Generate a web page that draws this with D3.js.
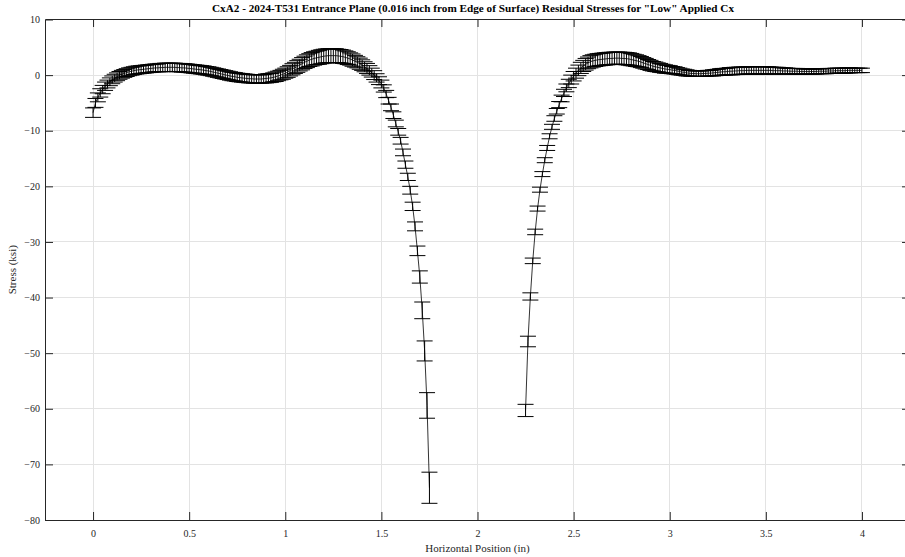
<!DOCTYPE html>
<html>
<head>
<meta charset="utf-8">
<script src="https://cdn.jsdelivr.net/npm/d3@7"></script>
<style>
  body { margin: 0; background: #fff; }
  svg { display: block; }
  text { font-family: "Liberation Serif", "Times New Roman", serif; }
</style>
</head>
<body>
<svg id="chart" width="905" height="557"></svg>
<script>
const titleText = 'CxA2 - 2024-T531 Entrance Plane (0.016 inch from Edge of Surface) Residual Stresses for "Low" Applied Cx';
const xLabel = 'Horizontal Position (in)';
const yLabel = 'Stress (ksi)';

const xTicks = [0, 0.5, 1, 1.5, 2, 2.5, 3, 3.5, 4];
const yTicks = [-80, -70, -60, -50, -40, -30, -20, -10, 0, 10];

// Left measurement run (0 to 1.75 in)
const leftX = [
  0, 0.0125, 0.025, 0.0375, 0.05, 0.0625, 0.075, 0.0875,
  0.1, 0.1125, 0.125, 0.1375, 0.15, 0.1625, 0.175, 0.1875,
  0.2, 0.2125, 0.225, 0.2375, 0.25, 0.2625, 0.275, 0.2875,
  0.3, 0.3125, 0.325, 0.3375, 0.35, 0.3625, 0.375, 0.3875,
  0.4, 0.4125, 0.425, 0.4375, 0.45, 0.4625, 0.475, 0.4875,
  0.5, 0.5125, 0.525, 0.5375, 0.55, 0.5625, 0.575, 0.5875,
  0.6, 0.6125, 0.625, 0.6375, 0.65, 0.6625, 0.675, 0.6875,
  0.7, 0.7125, 0.725, 0.7375, 0.75, 0.7625, 0.775, 0.7875,
  0.8, 0.8125, 0.825, 0.8375, 0.85, 0.8625, 0.875, 0.8875,
  0.9, 0.9125, 0.925, 0.9375, 0.95, 0.9625, 0.975, 0.9875,
  1.0, 1.0125, 1.025, 1.0375, 1.05, 1.0625, 1.075, 1.0875,
  1.1, 1.1125, 1.125, 1.1375, 1.15, 1.1625, 1.175, 1.1875,
  1.2, 1.2125, 1.225, 1.2375, 1.25, 1.2625, 1.275, 1.2875,
  1.3, 1.3125, 1.325, 1.3375, 1.35, 1.3625, 1.375, 1.3875,
  1.4, 1.4125, 1.425, 1.4375, 1.45, 1.4625, 1.475, 1.4875,
  1.5, 1.5125, 1.525, 1.5375, 1.55, 1.5625, 1.575, 1.5875,
  1.6, 1.6125, 1.625, 1.6375, 1.65, 1.6625, 1.675, 1.6875,
  1.7, 1.7125, 1.725, 1.7375, 1.75
];
const leftStress = [
  -6.75, -5.0, -4.0, -3.2, -2.6, -2.0, -1.6, -1.2,
  -0.85, -0.55, -0.3, -0.05, 0.15, 0.3, 0.45, 0.6,
  0.7, 0.8, 0.9, 0.95, 1.0, 1.05, 1.1, 1.15,
  1.2, 1.25, 1.3, 1.3, 1.35, 1.35, 1.4, 1.4,
  1.4, 1.4, 1.4, 1.35, 1.35, 1.3, 1.3, 1.25,
  1.2, 1.15, 1.1, 1.05, 1.0, 0.95, 0.9, 0.8,
  0.75, 0.65, 0.55, 0.45, 0.35, 0.25, 0.15, 0.05,
  -0.05, -0.15, -0.25, -0.3, -0.4, -0.45, -0.5, -0.55,
  -0.6, -0.65, -0.65, -0.7, -0.7, -0.7, -0.7, -0.65,
  -0.6, -0.55, -0.5, -0.4, -0.3, -0.15, 0.0, 0.15,
  0.35, 0.55, 0.8, 1.05, 1.3, 1.55, 1.8, 2.05,
  2.3, 2.5, 2.7, 2.85, 3.0, 3.1, 3.2, 3.3,
  3.4, 3.45, 3.5, 3.5, 3.5, 3.5, 3.45, 3.4,
  3.3, 3.2, 3.05, 2.9, 2.7, 2.5, 2.3, 2.05,
  1.8, 1.5, 1.2, 0.85, 0.45, 0.0, -0.5, -1.0,
  -1.6, -2.4, -3.4, -4.6, -5.8, -7.2, -8.7, -10.2,
  -11.8, -13.9, -16.1, -18.3, -20.7, -23.6, -27.2, -31.6,
  -36.3, -42.3, -49.6, -59.4, -74.2
];
const leftErr = [
  0.85, 0.8, 0.8, 0.75, 0.75, 0.75, 0.7, 0.7,
  0.7, 0.7, 0.7, 0.7, 0.7, 0.7, 0.7, 0.7,
  0.7, 0.7, 0.7, 0.7, 0.7, 0.7, 0.7, 0.7,
  0.7, 0.7, 0.7, 0.7, 0.75, 0.75, 0.75, 0.75,
  0.75, 0.75, 0.75, 0.75, 0.75, 0.75, 0.75, 0.75,
  0.75, 0.75, 0.75, 0.75, 0.75, 0.75, 0.75, 0.75,
  0.75, 0.75, 0.75, 0.75, 0.75, 0.75, 0.75, 0.75,
  0.75, 0.75, 0.75, 0.75, 0.75, 0.75, 0.75, 0.75,
  0.75, 0.75, 0.75, 0.75, 0.75, 0.75, 0.75, 0.75,
  0.8, 0.8, 0.8, 0.8, 0.85, 0.85, 0.85, 0.9,
  0.9, 0.95, 0.95, 1.0, 1.0, 1.05, 1.05, 1.1,
  1.1, 1.15, 1.15, 1.2, 1.2, 1.2, 1.25, 1.25,
  1.25, 1.25, 1.25, 1.25, 1.25, 1.25, 1.2, 1.2,
  1.2, 1.15, 1.15, 1.1, 1.1, 1.05, 1.0, 1.0,
  0.95, 0.9, 0.9, 0.85, 0.8, 0.8, 0.75, 0.7,
  0.7, 0.65, 0.65, 0.6, 0.6, 0.6, 0.6, 0.6,
  0.6, 0.6, 0.65, 0.65, 0.7, 0.75, 0.8, 0.86,
  1.1, 1.5, 1.8, 2.3, 2.8
];

// Right measurement run (2.25 to 4.0 in)
const rightX = [
  2.25, 2.2625, 2.275, 2.2875,
  2.3, 2.3125, 2.325, 2.3375, 2.35, 2.3625, 2.375, 2.3875,
  2.4, 2.4125, 2.425, 2.4375, 2.45, 2.4625, 2.475, 2.4875,
  2.5, 2.5125, 2.525, 2.5375, 2.55, 2.5625, 2.575, 2.5875,
  2.6, 2.6125, 2.625, 2.6375, 2.65, 2.6625, 2.675, 2.6875,
  2.7, 2.7125, 2.725, 2.7375, 2.75, 2.7625, 2.775, 2.7875,
  2.8, 2.8125, 2.825, 2.8375, 2.85, 2.8625, 2.875, 2.8875,
  2.9, 2.9125, 2.925, 2.9375, 2.95, 2.9625, 2.975, 2.9875,
  3.0, 3.0125, 3.025, 3.0375, 3.05, 3.0625, 3.075, 3.0875,
  3.1, 3.1125, 3.125, 3.1375, 3.15, 3.1625, 3.175, 3.1875,
  3.2, 3.2125, 3.225, 3.2375, 3.25, 3.2625, 3.275, 3.2875,
  3.3, 3.3125, 3.325, 3.3375, 3.35, 3.3625, 3.375, 3.3875,
  3.4, 3.4125, 3.425, 3.4375, 3.45, 3.4625, 3.475, 3.4875,
  3.5, 3.5125, 3.525, 3.5375, 3.55, 3.5625, 3.575, 3.5875,
  3.6, 3.6125, 3.625, 3.6375, 3.65, 3.6625, 3.675, 3.6875,
  3.7, 3.7125, 3.725, 3.7375, 3.75, 3.7625, 3.775, 3.7875,
  3.8, 3.8125, 3.825, 3.8375, 3.85, 3.8625, 3.875, 3.8875,
  3.9, 3.9125, 3.925, 3.9375, 3.95, 3.9625, 3.975, 3.9875,
  4.0
];
const rightStress = [
  -60.3, -47.9, -39.8, -33.4,
  -28.2, -24.0, -20.6, -17.8, -15.3, -13.1, -11.0, -9.3,
  -7.8, -6.5, -5.3, -4.2, -3.2, -2.3, -1.5, -0.8,
  -0.2, 0.35, 0.85, 1.3, 1.65, 1.95, 2.2, 2.4,
  2.55, 2.65, 2.75, 2.8, 2.85, 2.9, 2.95, 3.0,
  3.0, 3.05, 3.05, 3.05, 3.0, 3.0, 2.95, 2.9,
  2.8, 2.7, 2.6, 2.5, 2.35, 2.2, 2.05, 1.9,
  1.75, 1.6, 1.5, 1.4, 1.3, 1.2, 1.1, 1.05,
  1.0, 0.9, 0.85, 0.75, 0.65, 0.55, 0.5, 0.4,
  0.35, 0.3, 0.3, 0.25, 0.25, 0.25, 0.3, 0.3,
  0.35, 0.35, 0.4, 0.45, 0.5, 0.55, 0.6, 0.6,
  0.65, 0.7, 0.7, 0.75, 0.75, 0.8, 0.8, 0.8,
  0.85, 0.85, 0.85, 0.85, 0.85, 0.85, 0.85, 0.85,
  0.85, 0.85, 0.85, 0.8, 0.8, 0.8, 0.8, 0.75,
  0.75, 0.75, 0.7, 0.7, 0.7, 0.7, 0.65, 0.65,
  0.65, 0.65, 0.65, 0.65, 0.65, 0.65, 0.7, 0.7,
  0.7, 0.7, 0.75, 0.75, 0.75, 0.8, 0.8, 0.8,
  0.8, 0.8, 0.85, 0.85, 0.85, 0.85, 0.85, 0.85,
  0.85
];
const rightErr = [
  1.1, 0.95, 0.65, 0.5,
  0.5, 0.45, 0.45, 0.45, 0.45, 0.45, 0.45, 0.45,
  0.5, 0.5, 0.55, 0.6, 0.65, 0.7, 0.75, 0.8,
  0.85, 0.9, 0.95, 1.0, 1.0, 1.05, 1.05, 1.1,
  1.1, 1.1, 1.1, 1.1, 1.1, 1.1, 1.1, 1.1,
  1.1, 1.1, 1.1, 1.1, 1.1, 1.1, 1.1, 1.1,
  1.1, 1.05, 1.05, 1.0, 1.0, 0.95, 0.95, 0.9,
  0.9, 0.85, 0.85, 0.8, 0.8, 0.75, 0.75, 0.7,
  0.7, 0.65, 0.65, 0.6, 0.6, 0.55, 0.55, 0.55,
  0.5, 0.5, 0.5, 0.5, 0.5, 0.5, 0.5, 0.5,
  0.5, 0.5, 0.55, 0.55, 0.55, 0.6, 0.6, 0.6,
  0.6, 0.65, 0.65, 0.65, 0.65, 0.65, 0.65, 0.65,
  0.65, 0.65, 0.65, 0.65, 0.65, 0.65, 0.65, 0.65,
  0.65, 0.65, 0.6, 0.6, 0.6, 0.6, 0.55, 0.55,
  0.55, 0.5, 0.5, 0.5, 0.5, 0.5, 0.5, 0.5,
  0.45, 0.45, 0.45, 0.45, 0.45, 0.45, 0.45, 0.45,
  0.45, 0.45, 0.45, 0.45, 0.45, 0.45, 0.45, 0.45,
  0.45, 0.45, 0.45, 0.45, 0.4, 0.4, 0.4, 0.4,
  0.4
];

const runs = [
  { xs: leftX, ys: leftStress, es: leftErr },
  { xs: rightX, ys: rightStress, es: rightErr }
].map(r => r.xs.map((xv, i) => ({ x: xv, y: r.ys[i], e: r.es[i] })));

const svg = d3.select('#chart');
const plot = { left: 45, right: 910, top: 19.5, bottom: 520 };

const x = d3.scaleLinear().domain([-0.25, 4.25]).range([plot.left, plot.right]);
const y = d3.scaleLinear().domain([-80, 10]).range([plot.bottom, plot.top]);

const axisColor = '#262626';
const gridColor = '#e3e3e3';

// Grid lines
const grid = svg.append('g');
grid.selectAll('line.gx').data(xTicks).join('line')
  .attr('x1', d => Math.floor(x(d)) + 0.5).attr('x2', d => Math.floor(x(d)) + 0.5)
  .attr('y1', plot.top).attr('y2', plot.bottom)
  .attr('stroke', gridColor).attr('stroke-width', 1);
grid.selectAll('line.gy').data(yTicks).join('line')
  .attr('y1', d => Math.floor(y(d)) + 0.5).attr('y2', d => Math.floor(y(d)) + 0.5)
  .attr('x1', plot.left).attr('x2', plot.right)
  .attr('stroke', gridColor).attr('stroke-width', 1);

// Measurement runs with error bars
const capHalf = 8;
const line = d3.line().x(d => x(d.x)).y(d => y(d.y));
const data = svg.append('g');
runs.forEach(run => {
  data.append('path').datum(run)
    .attr('d', line)
    .attr('fill', 'none').attr('stroke', '#000').attr('stroke-width', 0.8);
  const g = data.append('g').attr('stroke', '#000').attr('stroke-width', 1);
  g.selectAll('line.stem').data(run).join('line')
    .attr('x1', d => x(d.x)).attr('x2', d => x(d.x))
    .attr('y1', d => y(d.y - d.e)).attr('y2', d => y(d.y + d.e));
  g.selectAll('line.capTop').data(run).join('line')
    .attr('x1', d => x(d.x) - capHalf).attr('x2', d => x(d.x) + capHalf)
    .attr('y1', d => y(d.y + d.e)).attr('y2', d => y(d.y + d.e));
  g.selectAll('line.capBot').data(run).join('line')
    .attr('x1', d => x(d.x) - capHalf).attr('x2', d => x(d.x) + capHalf)
    .attr('y1', d => y(d.y - d.e)).attr('y2', d => y(d.y - d.e));
});

// Axes with inward ticks
const fmt = d3.format('');
const styleAxis = g => {
  g.select('.domain').attr('stroke', axisColor);
  g.selectAll('.tick line').attr('stroke', axisColor);
  g.selectAll('.tick text').attr('fill', axisColor)
    .style('font-family', '"Liberation Serif", "Times New Roman", serif')
    .style('font-size', '10px');
};
svg.append('g').attr('transform', `translate(0,${plot.bottom})`)
  .call(d3.axisBottom(x).tickValues(xTicks).tickFormat(fmt).tickSizeInner(-8).tickSizeOuter(0).tickPadding(10))
  .call(styleAxis);
svg.append('g').attr('transform', `translate(0,${Math.floor(plot.top)})`)
  .call(d3.axisTop(x).tickValues(xTicks).tickFormat('').tickSizeInner(-8).tickSizeOuter(0))
  .call(styleAxis);
svg.append('g').attr('transform', `translate(${plot.left},0)`)
  .call(d3.axisLeft(y).tickValues(yTicks).tickFormat(fmt).tickSizeInner(-8).tickSizeOuter(0).tickPadding(5))
  .call(styleAxis);
svg.append('g').attr('transform', `translate(${plot.right},0)`)
  .call(d3.axisRight(y).tickValues(yTicks).tickFormat('').tickSizeInner(-8).tickSizeOuter(0))
  .call(styleAxis);

// Title and axis labels
svg.append('text')
  .attr('x', 473).attr('y', 12)
  .attr('text-anchor', 'middle')
  .attr('font-size', 11).attr('font-weight', 'bold')
  .attr('fill', '#000')
  .attr('textLength', 522).attr('lengthAdjust', 'spacingAndGlyphs')
  .text(titleText);
svg.append('text')
  .attr('x', (plot.left + plot.right) / 2).attr('y', 551.5)
  .attr('text-anchor', 'middle')
  .attr('font-size', 11).attr('fill', axisColor)
  .text(xLabel);
svg.append('text')
  .attr('transform', `translate(15.5,${(plot.top + plot.bottom) / 2}) rotate(-90)`)
  .attr('text-anchor', 'middle')
  .attr('font-size', 11).attr('fill', axisColor)
  .text(yLabel);
</script>
</body>
</html>
